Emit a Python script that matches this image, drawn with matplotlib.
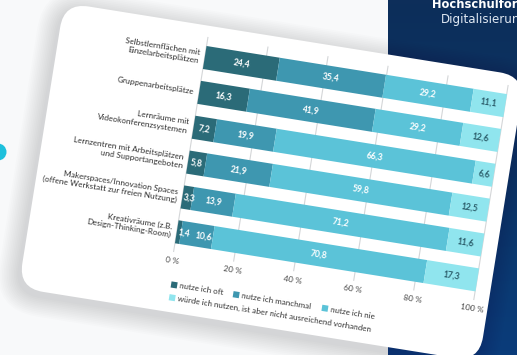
import matplotlib
matplotlib.use("Agg")
import numpy as np
import matplotlib.pyplot as plt
from matplotlib.transforms import Affine2D
from matplotlib.patches import FancyBboxPatch, Rectangle, Circle
from matplotlib.colors import LinearSegmentedColormap

# ---- data -------------------------------------------------------------
categories = [
    "Selbstlernflächen mit\nEinzelarbeitsplätzen",
    "Gruppenarbeitsplätze",
    "Lernräume mit\nVideokonferenzsystemen",
    "Lernzentren mit Arbeitsplätzen\nund Supportangeboten",
    "Makerspaces/Innovation Spaces\n(offene Werkstatt zur freien Nutzung)",
    "Kreativräume (z.B.\nDesign-Thinking-Room)",
]
oft = [24.4, 16.3, 7.2, 5.8, 3.3, 1.4]
manchmal = [35.4, 41.9, 19.9, 21.9, 13.9, 10.6]
nie = [29.2, 29.2, 66.3, 59.8, 71.2, 70.8]
wuerde = [11.1, 12.6, 6.6, 12.5, 11.6, 17.3]
series_names = [
    "nutze ich oft",
    "nutze ich manchmal",
    "nutze ich nie",
    "würde ich nutzen, ist aber nicht ausreichend vorhanden",
]
tick_values = [0, 20, 40, 60, 80, 100]
tick_labels = ["0 %", "20 %", "40 %", "60 %", "80 %", "100 %"]

# ---- style ------------------------------------------------------------
colors = ["#2b6b78", "#3e97b0", "#5bc3d8", "#90e5ee"]
label_colors = ["white", "white", "white", "#2c5e6b"]
plt.rcParams["font.family"] = ["Lato", "DejaVu Sans"]

W, H = 517, 355
fig = plt.figure(figsize=(W / 100, H / 100), dpi=100)
ax = fig.add_axes([0, 0, 1, 1])
ax.set_xlim(0, W)
ax.set_ylim(H, 0)
ax.axis("off")

# page background with navy side panel
fig.patch.set_facecolor("#f8f9fa")
navy = LinearSegmentedColormap.from_list("navy", ["#0d2e5a", "#0b3768", "#0a3c7a"])
ax.imshow(np.linspace(0, 1, 64).reshape(-1, 1), cmap=navy, aspect="auto",
          extent=(388, W, H, 0), zorder=0, interpolation="bilinear")
ax.set_xlim(0, W)
ax.set_ylim(H, 0)
ax.add_patch(Circle((-2, 152), 8.5, facecolor="#1ec0dc", edgecolor="none", zorder=0))
ax.text(432, 8.3, "Hochschulforum", color="white", fontsize=8.3, fontweight="bold",
        family="DejaVu Sans", va="baseline", ha="left", zorder=1)
ax.text(441, 22.5, "Digitalisierung", color="#dfe8f2", fontsize=8.6,
        family="DejaVu Sans", va="baseline", ha="left", zorder=1)

# tilted card: local pixel frame, then chart frame (percent x, row y)
theta = 9.1
card_tr = Affine2D().rotate_deg(theta).translate(204.7, 57.5)
px_per_pct, px_per_row = 3.04, 35.3
chart_tr = Affine2D().scale(px_per_pct, px_per_row) + card_tr
T_card = card_tr + ax.transData
T_chart = chart_tr + ax.transData

u0, u1, v0, v1 = -147.5, 319.0, -32.0, 257.0
rad = 25
for i in range(12, 0, -1):
    g = i * 1.7
    ax.add_patch(FancyBboxPatch((u0 - g - 2, v0 - g + 5), (u1 - u0) + 2 * g, (v1 - v0) + 2 * g,
                                boxstyle=f"round,pad=0,rounding_size={rad + g}",
                                facecolor="#1a2030", edgecolor="none", alpha=0.011,
                                transform=T_card, zorder=1))
ax.add_patch(FancyBboxPatch((u0, v0), u1 - u0, v1 - v0,
                            boxstyle=f"round,pad=0,rounding_size={rad}",
                            facecolor="white", edgecolor="none",
                            transform=T_card, zorder=2))

# grid lines
for t in tick_values:
    ax.plot([t, t], [-0.59, 5.58], color="#d4d6d8", lw=0.8, transform=T_chart,
            zorder=3, solid_capstyle="butt")

# stacked bars
rows = list(range(len(categories)))
series = [oft, manchmal, nie, wuerde]
lefts = [0.0] * len(rows)
label_end = [-10.0] * len(rows)
for k, vals in enumerate(series):
    ax.barh(rows, vals, left=lefts, height=0.66, color=colors[k], edgecolor="none",
            transform=T_chart, zorder=4)
    for r, (l, w) in enumerate(zip(lefts, vals)):
        s = f"{w:.1f}".replace(".", ",")
        est = 1.15 * len(s)
        if w < 4:
            x, ha = l + 0.3, "left"
            end = x + est
        else:
            x = max(l + w / 2, label_end[r] + 3 + est / 2)
            ha = "center"
            end = x + est / 2
        label_end[r] = end
        ax.text(x, r, s, transform=T_chart, rotation=-theta, rotation_mode="anchor",
                ha=ha, va="center", fontsize=6.2, fontweight="bold",
                color=label_colors[k], zorder=5)
    lefts = [a + b for a, b in zip(lefts, vals)]

# category labels
for r, name in enumerate(categories):
    ax.text(-1.7, r, name, transform=T_chart, rotation=-theta, rotation_mode="anchor",
            ha="right", va="center", multialignment="right", fontsize=5.9,
            linespacing=1.25, color="#2f2f2f", zorder=5)

# tick labels
for t, lab in zip(tick_values, tick_labels):
    ax.text(t, 5.82, lab, transform=T_chart, rotation=-theta, rotation_mode="anchor",
            ha="center", va="center", fontsize=6.0, color="#444444", zorder=5)

# legend
legend_pos = [(2.7, 229.4), (65.5, 229.2), (155.3, 228.6), (2.8, 242.3)]
sq = 6.2
for k, (lu, lv) in enumerate(legend_pos):
    ax.add_patch(Rectangle((lu, lv - sq / 2), sq, sq, facecolor=colors[k], edgecolor="none",
                           transform=T_card, zorder=5))
    ax.text(lu + sq + 2.5, lv, series_names[k], transform=T_card, rotation=-theta,
            rotation_mode="anchor", ha="left", va="center", fontsize=5.8,
            color="#333333", zorder=5)

fig.savefig("out.png", dpi=100, facecolor=fig.get_facecolor())
